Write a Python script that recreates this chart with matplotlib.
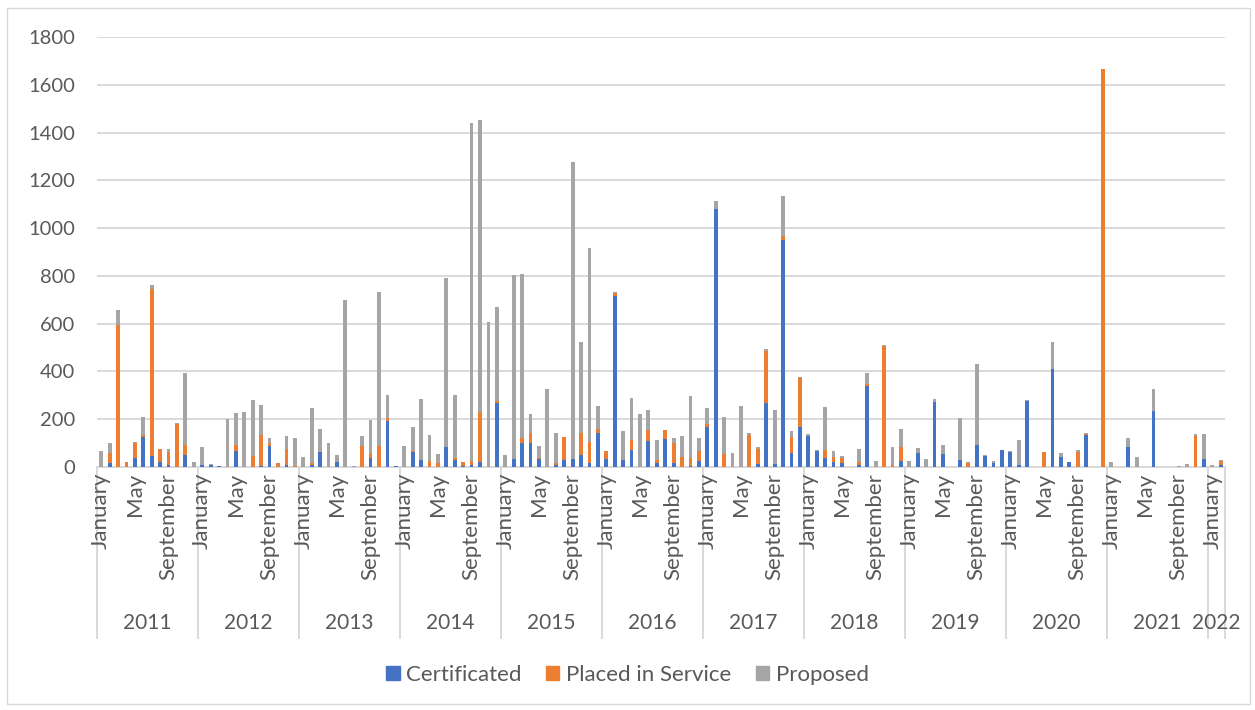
import numpy as np
import matplotlib
matplotlib.use("Agg")
import matplotlib.pyplot as plt
import matplotlib.transforms as mtransforms
from matplotlib.patches import Patch, Rectangle
from matplotlib.lines import Line2D

plt.rcParams['font.family'] = ['Lato', 'DejaVu Sans']

# monthly counts, January 2011 .. February 2022
certificated = [
    0, 17, 0, 0, 38, 126, 46, 22, 7, 0, 52, 0,            # 2011
    7, 10, 5, 0, 66, 0, 0, 4, 87, 0, 8, 0,                # 2012
    0, 7, 63, 0, 21, 0, 0, 0, 38, 0, 193, 5,              # 2013
    0, 63, 28, 0, 0, 84, 28, 5, 7, 21, 0, 268,            # 2014
    0, 34, 99, 100, 34, 0, 7, 29, 32, 50, 15, 141,        # 2015
    34, 716, 28, 70, 0, 109, 18, 116, 15, 0, 5, 25,       # 2016
    168, 1079, 0, 0, 0, 0, 13, 267, 11, 950, 60, 166,     # 2017
    130, 68, 36, 21, 15, 0, 7, 339, 0, 0, 0, 25,          # 2018
    0, 57, 0, 271, 54, 0, 28, 0, 92, 46, 17, 70,          # 2019
    64, 7, 278, 0, 0, 409, 42, 20, 0, 133, 0, 0,          # 2020
    0, 0, 84, 0, 0, 233, 0, 0, 0, 0, 0, 32,               # 2021
    0, 7,                                                 # 2022
]
placed_in_service = [
    0, 42, 593, 20, 63, 7, 698, 52, 56, 181, 42, 0,
    0, 0, 0, 2, 27, 0, 46, 131, 13, 15, 66, 3,
    0, 10, 0, 0, 0, 0, 0, 88, 20, 88, 11, 0,
    0, 5, 0, 24, 17, 0, 8, 18, 17, 209, 0, 10,
    0, 0, 22, 42, 4, 0, 11, 98, 0, 92, 89, 18,
    35, 13, 0, 43, 0, 47, 11, 40, 85, 42, 32, 40,
    11, 0, 56, 0, 0, 135, 61, 219, 0, 17, 64, 205,
    0, 0, 34, 22, 22, 0, 14, 8, 0, 507, 10, 59,
    0, 0, 0, 0, 0, 0, 0, 18, 0, 0, 0, 0,
    0, 0, 0, 0, 61, 0, 0, 0, 63, 6, 0, 1665,
    0, 0, 0, 0, 0, 0, 0, 0, 0, 0, 130, 0,
    0, 18,
]
proposed = [
    67, 42, 63, 0, 3, 77, 17, 0, 11, 2, 300, 20,
    78, 2, 0, 200, 135, 230, 235, 126, 20, 0, 56, 118,
    43, 232, 98, 99, 31, 701, 4, 42, 137, 646, 96, 0,
    88, 98, 255, 109, 39, 708, 264, 0, 1416, 1222, 609, 393,
    52, 769, 685, 80, 50, 328, 124, 0, 1243, 381, 814, 96,
    0, 5, 124, 176, 222, 83, 84, 0, 22, 88, 260, 56,
    66, 34, 152, 60, 254, 6, 8, 10, 229, 167, 25, 4,
    7, 4, 180, 25, 7, 0, 53, 47, 24, 3, 75, 74,
    27, 22, 35, 15, 39, 2, 177, 4, 341, 3, 7, 3,
    3, 107, 3, 0, 3, 116, 15, 1, 10, 2, 0, 0,
    22, 0, 39, 40, 2, 92, 2, 0, 4, 12, 8, 107,
    10, 3,
]
years = ['2011', '2012', '2013', '2014', '2015', '2016', '2017', '2018',
         '2019', '2020', '2021', '2022']
month_names = ['January', 'February', 'March', 'April', 'May', 'June', 'July',
               'August', 'September', 'October', 'November', 'December']

BLUE, ORANGE, GREY = '#4472C4', '#ED7D31', '#A5A5A5'
TXT = '#595959'
GRID = '#D9D9D9'

c = np.array(certificated)
p = np.array(placed_in_service)
g = np.array(proposed)
n = len(c)
x = np.arange(n)

W, H = 1255, 710
fig = plt.figure(figsize=(W / 100, H / 100), dpi=100)
ax = fig.add_axes([97 / W, (H - 467) / H, (1225 - 97) / W, (467 - 37) / H])

w = 0.45
ax.bar(x, c, w, color=BLUE, zorder=3)
ax.bar(x, p, w, bottom=c, color=ORANGE, zorder=3)
ax.bar(x, g, w, bottom=c + p, color=GREY, zorder=3)

ax.set_xlim(-0.5, n - 0.5)
ax.set_ylim(0, 1800)
ax.set_yticks(range(0, 1801, 200))
ax.yaxis.grid(True, color=GRID, lw=1.4, zorder=0)
ax.tick_params(axis='y', length=0, pad=16, labelsize=14.5, labelcolor=TXT)
ax.set_xticks([])
for s in ['top', 'right', 'left']:
    ax.spines[s].set_visible(False)
ax.spines['bottom'].set_color(GRID)
ax.spines['bottom'].set_linewidth(1.4)

# two-level category axis: months every 4th, years underneath
trans = mtransforms.blended_transform_factory(ax.transData, ax.transAxes)
for i in range(0, n, 4):
    ax.text(i, -0.014, month_names[i % 12], transform=trans, rotation=90,
            ha='center', va='top', fontsize=16, color=TXT)
for k, yr in enumerate(years):
    start = 12 * k - 0.5
    end = min(12 * (k + 1), n) - 0.5
    ax.text((start + end) / 2, -0.363, yr, transform=trans, ha='center',
            va='center', fontsize=15, color=TXT)
bounds = [12 * k - 0.5 for k in range(len(years))] + [n - 0.5]
for b in bounds:
    ax.add_line(Line2D([b, b], [0, -0.398], transform=trans, color=GRID,
                       lw=1.4, clip_on=False))

handles = [Patch(color=BLUE), Patch(color=ORANGE), Patch(color=GREY)]
fig.legend(handles, ['Certificated', 'Placed in Service', 'Proposed'],
           loc='center', bbox_to_anchor=(0.5, (H - 675) / H), ncol=3,
           frameon=False, fontsize=16, labelcolor=TXT, handlelength=0.6,
           handleheight=0.6, handletextpad=0.3, columnspacing=1.1)

fig.add_artist(Rectangle((7 / W, 6 / H), (1250 - 7) / W, (702 - 6) / H,
                         transform=fig.transFigure, fill=False,
                         edgecolor=GRID, lw=1))

fig.savefig('out.png', dpi=100, facecolor='white')
